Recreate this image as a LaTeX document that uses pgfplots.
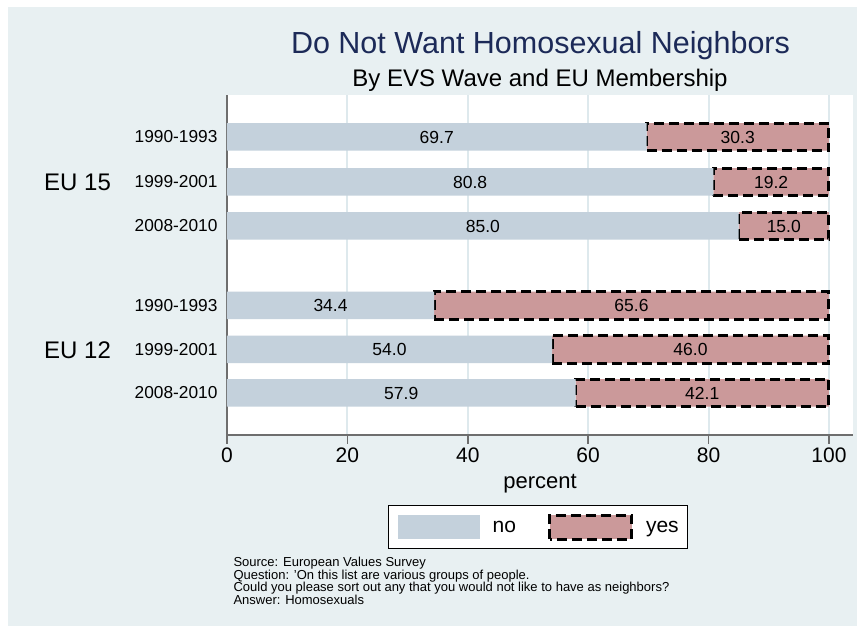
\documentclass[border=0pt]{standalone}
\usepackage{fontspec}
\setmainfont{Liberation Sans}
\usepackage{pgfplots}
\usepackage{pgfplotstable}
\pgfplotsset{compat=1.18}
\pgfplotsset{/pgf/number format/assume math mode=true}
\definecolor{bgc}{RGB}{232,240,242}
\definecolor{nocol}{RGB}{196,209,220}
\definecolor{yescol}{RGB}{203,153,154}
\definecolor{gridc}{RGB}{222,233,237}
\definecolor{titlec}{RGB}{28,42,88}
\definecolor{axisc}{RGB}{110,110,110}

\pgfplotstableread{
y no yes
489 69.7 30.3
444 80.8 19.2
400 85.0 15.0
320.5 34.4 65.6
276.5 54.0 46.0
233 57.9 42.1
}\datatab

\pgfplotsset{myaxis/.style={
  at={(227pt,191pt)}, anchor=south west, scale only axis,
  width=626pt, height=340pt,
  xmin=0, xmax=104, ymin=191, ymax=531,
}}

\begin{document}
\begin{tikzpicture}
\fill[white] (0pt,0pt) rectangle (857pt,626pt);
\fill[bgc] (8pt,0pt) rectangle (857pt,619pt);

\node[anchor=base, font=\fontsize{30.5}{30.5}\selectfont, text=titlec] at (540.5pt,572pt) {Do Not Want Homosexual Neighbors};
\node[anchor=base, font=\fontsize{24}{24}\selectfont] at (540pt,539pt) {By EVS Wave and EU Membership};

\begin{axis}[myaxis,
  xbar stacked, bar width=27.5,
  axis background/.style={fill=white},
  axis x line*=bottom, axis y line*=left,
  axis line style={draw=axisc, line width=1.5pt, -},
  every outer x axis line/.append style={-},
  every outer y axis line/.append style={-},
  xtick={0,20,40,60,80,100},
  ytick={489,444,400,320.5,276.5,233},
  yticklabels={1990-1993,1999-2001,2008-2010,1990-1993,1999-2001,2008-2010},
  x tick style={draw=axisc, line width=1.5pt},
  major tick length=9pt, tick align=outside,
  y tick style={draw=none},
  xmajorgrids, grid style={draw=gridc, line width=2pt},
  xticklabel style={font=\fontsize{21}{21}\selectfont},
  yticklabel style={font=\fontsize{17.3}{17.3}\selectfont, xshift=3pt},
  xlabel={percent},
  xlabel style={font=\fontsize{22}{22}\selectfont, at={(axis description cs:0.5,-0.156)}, anchor=base},
  legend columns=2,
  legend style={at={(axis description cs:0.2572,-0.2059)}, anchor=north west,
    draw=black, line width=1.3pt, fill=white, inner xsep=9pt, inner ysep=8pt,
    /tikz/every odd column/.append style={column sep=13pt},
    /tikz/every even column/.append style={column sep=32pt},
    nodes={inner sep=0pt, font=\fontsize{21}{21}\selectfont, anchor=west}},
  clip=false,
]
\addplot[fill=nocol, draw=none,
  legend image code/.code={\fill[nocol] (0pt,-12pt) rectangle (82pt,12pt);}]
  table[x=no, y=y] {\datatab};
\addplot[fill=yescol, draw=black, line width=3pt, dash pattern=on 10pt off 5pt,
  legend image code/.code={\draw[fill=yescol, draw=black, line width=3pt, dash pattern=on 10pt off 5pt] (0pt,-12pt) rectangle (82pt,12pt);}]
  table[x=yes, y=y] {\datatab};
\legend{no, yes}
\node[anchor=base, font=\fontsize{24}{24}\selectfont] at (axis cs:-24.83,435) {EU 15};
\node[anchor=base, font=\fontsize{24}{24}\selectfont] at (axis cs:-24.83,267) {EU 12};
\end{axis}

\begin{axis}[myaxis, hide axis, clip=false,
  nodes near coords={\pgfmathprintnumber[fixed,fixed zerofill,precision=1]{\pgfplotspointmeta}},
  point meta=explicit,
  every node near coord/.append style={anchor=center, font=\fontsize{17.5}{17.5}\selectfont, text=black},
]
\addplot[only marks, mark=none] table[x expr=\thisrow{no}/2, y=y, meta=no] {\datatab};
\addplot[only marks, mark=none] table[x expr=\thisrow{no}+\thisrow{yes}/2, y=y, meta=yes] {\datatab};
\end{axis}

\node[anchor=base west, font=\fontsize{13}{13}\selectfont] at (230pt,59pt) {Source: European Values Survey};
\node[anchor=base west, font=\fontsize{13}{13}\selectfont] at (230pt,46pt) {Question: 'On this list are various groups of people.};
\node[anchor=base west, font=\fontsize{13}{13}\selectfont] at (230pt,34pt) {Could you please sort out any that you would not like to have as neighbors?};
\node[anchor=base west, font=\fontsize{13}{13}\selectfont] at (230pt,21pt) {Answer: Homosexuals};
\end{tikzpicture}
\end{document}
